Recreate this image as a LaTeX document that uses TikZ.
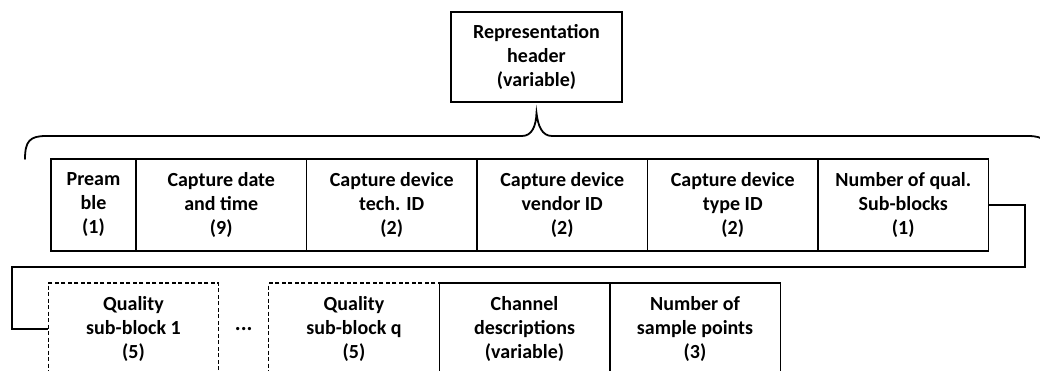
\documentclass[tikz,border=0pt]{standalone}
\usepackage{fontspec}
\setmainfont{Carlito}
\usetikzlibrary{positioning}

\tikzset{
  field/.style={draw,line width=1.5pt,minimum width=170.5pt,minimum height=92pt,
    inner sep=0pt,outer sep=0pt,align=center,font=\fontsize{20}{24}\selectfont\bfseries},
  subfield/.style={field,line width=1.2pt,dash pattern=on 4pt off 2.5pt},
  link/.style={line width=2.3pt},
  brace/.style={line width=1.8pt,line cap=round}
}

\begin{document}
\begin{tikzpicture}[x=1pt,y=-1pt,node distance=0pt]
\useasboundingbox (0,0) rectangle (1040,371);
% header
\node[field,minimum width=171pt,minimum height=90pt] (hdr) at (536.5,57) {Representation\\header\\(variable)};
% first row of fields
\node[field,minimum width=85pt] (pre) at (93.5,205) {Pream\\ble\\(1)};
\node[field,right=of pre] (date) {Capture date\\and time\\(9)};
\node[field,right=of date] (tech) {Capture device\\tech. ID\\(2)};
\node[field,right=of tech] (vend) {Capture device\\vendor ID\\(2)};
\node[field,right=of vend] (type) {Capture device\\type ID\\(2)};
\node[field,right=of type] (nqual) {Number of qual.\\Sub-blocks\\(1)};
% second row
\node[subfield] (sb1) at (133.5,329) {Quality\\sub-block 1\\(5)};
\node[right=of sb1,minimum width=50pt,inner sep=0pt,outer sep=0pt,font=\fontsize{22}{24}\selectfont\bfseries] (dots) {...};
\node[subfield,right=of dots] (sbq) {Quality\\sub-block q\\(5)};
\node[field,right=of sbq] (chan) {Channel\\descriptions\\(variable)};
\node[field,right=of chan] (npts) {Number of\\sample points\\(3)};
% brace under the header
\draw[brace] (25,159) .. controls (25,141) and (30,136) .. (46,136) -- (522,136)
  .. controls (532,136) and (536,126) .. (hdr.south |- 0,113)
  .. controls (538,126) and (542,136) .. (552,136) -- (1028,136)
  .. controls (1044,136) and (1049,141) .. (1049,159);
% wrap to second row
\coordinate (turnR) at (1025,267);
\coordinate (turnL) at (12,267);
\draw[link] (nqual.east) -| (turnR) -- (turnL) |- (sb1.west);
\end{tikzpicture}
\end{document}
